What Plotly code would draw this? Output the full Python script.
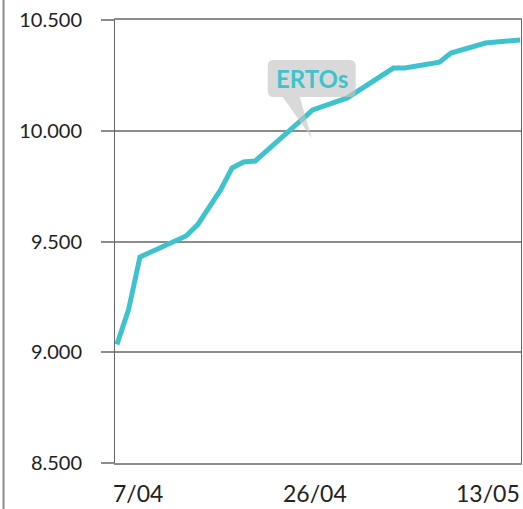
import plotly.graph_objects as go

# ---- data ----
dates = ["2020-04-07", "2020-04-08", "2020-04-09", "2020-04-13", "2020-04-14",
         "2020-04-16", "2020-04-17", "2020-04-18", "2020-04-19", "2020-04-24",
         "2020-04-27", "2020-05-01", "2020-05-02", "2020-05-05", "2020-05-06",
         "2020-05-09", "2020-05-12"]
values = [9035, 9190, 9430, 9525, 9575, 9733, 9832, 9859, 9863, 10094,
          10148, 10283, 10283, 10310, 10351, 10396, 10410]
series_name = "ERTOs"
x_labels = ["7/04", "26/04", "13/05"]
y_ticks = [8500, 9000, 9500, 10000, 10500]
y_ticktext = ["8.500", "9.000", "9.500", "10.000", "10.500"]

LINE = "#3ec3ce"
GRID = "#8c8c8c"
FONT = "Lato"

fig = go.Figure()
fig.add_trace(go.Scatter(x=dates, y=values, mode="lines", name=series_name,
                         line=dict(color=LINE, width=5), hoverinfo="skip"))

# x-axis labels: first left aligned, middle centred, last right aligned
anchors = ["left", "center", "right"]
positions = [0, 0.5, 1]
shifts = [-4, -3, 1]
for lab, px, anc, sh in zip(x_labels, positions, anchors, shifts):
    fig.add_annotation(text=lab, xref="paper", yref="paper", x=px, y=0,
                       xanchor=anc, yanchor="middle", xshift=sh, yshift=-30,
                       showarrow=False,
                       font=dict(family=FONT, size=23, color="#222"))

# callout bubble anchored at a data point
idx = dates.index("2020-04-24")
bubble = ("M -45,19 L -45,44 Q -45,50 -39,50 L 37,50 Q 43,50 43,44 L 43,19 "
          "Q 43,13 37,13 L -13,13 L -1,-28 L -30,13 L -39,13 Q -45,13 -45,19 Z")
fig.add_shape(type="path", xref="x", yref="y", xsizemode="pixel", ysizemode="pixel",
              xanchor=dates[idx], yanchor=values[idx], path=bubble,
              fillcolor="#c4c4c4", opacity=0.65, line=dict(width=0), layer="above")
fig.add_annotation(text="<b>%s</b>" % series_name, x=dates[idx], y=values[idx],
                   xshift=-1, yshift=31.5, showarrow=False,
                   font=dict(family=FONT, size=24, color=LINE))

# left frame line of the image
fig.add_shape(type="line", xref="paper", yref="paper", xsizemode="pixel",
              ysizemode="pixel", xanchor=0, yanchor=0, x0=-111.5, x1=-111.5,
              y0=-50, y1=470, line=dict(color="#8a8a8a", width=2))

fig.update_layout(
    width=523, height=509,
    margin=dict(l=115, r=2, t=20, b=46),
    paper_bgcolor="white", plot_bgcolor="white",
    showlegend=False,
    font=dict(family=FONT, size=20, color="#222"),
    xaxis=dict(type="date", range=["2020-04-06 20:00", "2020-05-12 02:00"],
               showgrid=False, zeroline=False, showticklabels=False, ticks="",
               showline=True, linecolor=GRID, linewidth=1.5, mirror=True),
    yaxis=dict(range=[8500, 10500], tickvals=y_ticks, ticktext=y_ticktext,
               showgrid=True, gridcolor=GRID, gridwidth=1.5, zeroline=False,
               ticks="outside", ticklen=13, tickcolor=GRID, tickwidth=1.5,
               showline=True, linecolor="#666", linewidth=1, mirror=True,
               ticklabelstandoff=15,
               tickfont=dict(family=FONT, size=20, color="#222")),
)

fig.write_html("out.html", config={"displayModeBar": False},
               post_script="document.body.style.margin='0';document.body.style.overflow='hidden';")
